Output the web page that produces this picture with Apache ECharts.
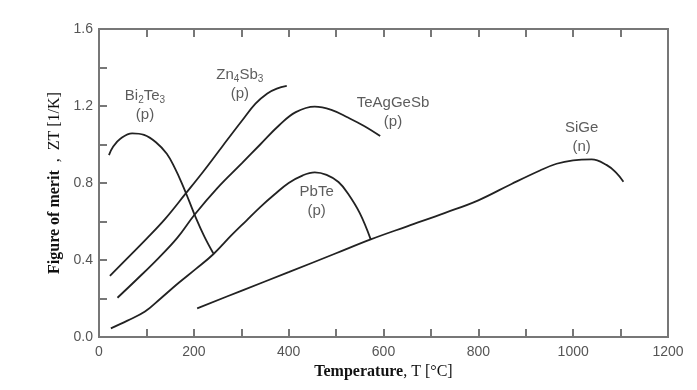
<!DOCTYPE html>
<html>
<head>
<meta charset="utf-8">
<script src="https://cdn.jsdelivr.net/npm/echarts@6/dist/echarts.min.js"></script>
<style>html,body{margin:0;padding:0;background:#fff}#c{width:697px;height:390px}</style>
</head>
<body>
<div id="c"></div>
<script>
// ---- data (T in °C, ZT) ----
const bi2te3 = [[21,0.945],[30,0.99],[45,1.03],[70,1.058],[95,1.05],[120,1.012],[143,0.952],[160,0.877],[175,0.797],[190,0.707],[205,0.615],[222,0.523],[241,0.435]];
const zn4sb3 = [[23,0.317],[60,0.41],[100,0.51],[140,0.615],[183,0.746],[220,0.86],[260,0.99],[301,1.122],[330,1.212],[355,1.265],[375,1.29],[396,1.304]];
const teaggesb = [[39,0.204],[80,0.3],[125,0.409],[165,0.515],[201,0.634],[250,0.775],[301,0.902],[340,1.0],[380,1.1],[415,1.168],[455,1.197],[490,1.18],[525,1.14],[560,1.095],[593,1.044]];
const pbte = [[25,0.045],[60,0.085],[97,0.132],[130,0.2],[167,0.279],[205,0.355],[241,0.43],[280,0.53],[311,0.605],[340,0.675],[370,0.74],[400,0.8],[430,0.84],[455,0.855],[480,0.842],[505,0.805],[525,0.745],[550,0.643],[573,0.507]];
const sige = [[207,0.149],[300,0.24],[400,0.337],[500,0.435],[573,0.507],[650,0.575],[730,0.645],[800,0.71],[870,0.795],[930,0.865],[965,0.9],[1000,0.918],[1039,0.923],[1071,0.893],[1090,0.855],[1106,0.807]];

const xTickLabels = ['0','200','400','600','800','1000','1200'];
const yTickLabels = ['0.0','0.4','0.8','1.2','1.6'];

// annotation anchors (data coordinates) and texts
const labelTexts = [
  '{a|Bi}{s|2}{a|Te}{s|3}\n{a|(p)}',
  '{a|Zn}{s|4}{a|Sb}{s|3}\n{a|(p)}',
  '{a|TeAgGeSb}\n{a|(p)}',
  '{a|PbTe}\n{a|(p)}',
  '{a|SiGe}\n{a|(n)}'
];
const labelCoords = [[97,1.205],[297,1.314],[620,1.166],[459,0.703],[1018,1.036]];

const lineColor = '#222';
const axisColor = '#777';
const rich = {
  a: {fontSize: 15, fontFamily: 'Liberation Sans, Arial, sans-serif', color: '#333', lineHeight: 19},
  s: {fontSize: 10, fontFamily: 'Liberation Sans, Arial, sans-serif', color: '#333', lineHeight: 19, verticalAlign: 'bottom', padding: [6,0,0,0]}
};

function mk(name, data) {
  return {
    name: name, type: 'line', data: data, smooth: 0.4, symbol: 'none',
    lineStyle: {color: lineColor, width: 1.8}, z: 3
  };
}

const series = [mk('Bi2Te3', bi2te3), mk('Zn4Sb3', zn4sb3), mk('TeAgGeSb', teaggesb), mk('PbTe', pbte), mk('SiGe', sige)];
series.push({
  type: 'scatter', data: labelCoords.map((c, i) => ({value: c, label: {formatter: labelTexts[i]}})),
  symbolSize: 0, silent: true,
  label: {show: true, position: 'inside', rich: rich}
});

const serif = 'Liberation Serif, Times New Roman, serif';
const chart = echarts.init(document.getElementById('c'), null, {renderer: 'canvas'});
chart.setOption({
  animation: false,
  backgroundColor: '#fff',
  grid: {left: 99, right: 29, top: 29, bottom: 53, show: true, borderColor: axisColor, borderWidth: 2},
  xAxis: [{
    type: 'value', min: 0, max: 1200, interval: 100, position: 'bottom',
    axisLine: {show: true, lineStyle: {color: axisColor, width: 2}},
    axisTick: {show: true, inside: true, length: 8, lineStyle: {color: axisColor, width: 2}},
    splitLine: {show: false},
    axisLabel: {
      margin: 8, fontSize: 14, color: '#555', fontFamily: 'Liberation Sans, Arial, sans-serif',
      showMinLabel: true, showMaxLabel: true,
      formatter: v => xTickLabels.includes(String(v)) ? String(v) : ''
    },
    name: '{b|Temperature}{r|, T [°C]}', nameLocation: 'middle', nameGap: 25,
    nameTextStyle: {rich: {
      b: {fontSize: 16, fontWeight: 'bold', fontFamily: serif, color: '#111'},
      r: {fontSize: 16, fontFamily: serif, color: '#111'}
    }}
  }, {
    type: 'value', min: 0, max: 1200, interval: 100, position: 'top',
    axisLine: {show: true, lineStyle: {color: axisColor, width: 2}},
    axisTick: {show: true, inside: true, length: 8, lineStyle: {color: axisColor, width: 2}},
    axisLabel: {show: false}, splitLine: {show: false}
  }],
  yAxis: [{
    type: 'value', min: 0, max: 1.6, interval: 0.2,
    axisLine: {show: true, lineStyle: {color: axisColor, width: 2}},
    axisTick: {show: true, inside: true, length: 8, lineStyle: {color: axisColor, width: 2}},
    splitLine: {show: false},
    axisLabel: {
      margin: 6, fontSize: 14, color: '#555', fontFamily: 'Liberation Sans, Arial, sans-serif',
      showMinLabel: true, showMaxLabel: true,
      formatter: v => { const s = (Math.round(v * 10) / 10).toFixed(1); return yTickLabels.includes(s) ? s : ''; }
    },
    name: '{b|Figure of merit}{r|  ,  ZT [1/K]}', nameLocation: 'middle', nameGap: 36, nameRotate: 90,
    nameTextStyle: {rich: {
      b: {fontSize: 16, fontWeight: 'bold', fontFamily: serif, color: '#111'},
      r: {fontSize: 16, fontFamily: serif, color: '#111'}
    }}
  }],
  series: series
});
</script>
</body>
</html>
